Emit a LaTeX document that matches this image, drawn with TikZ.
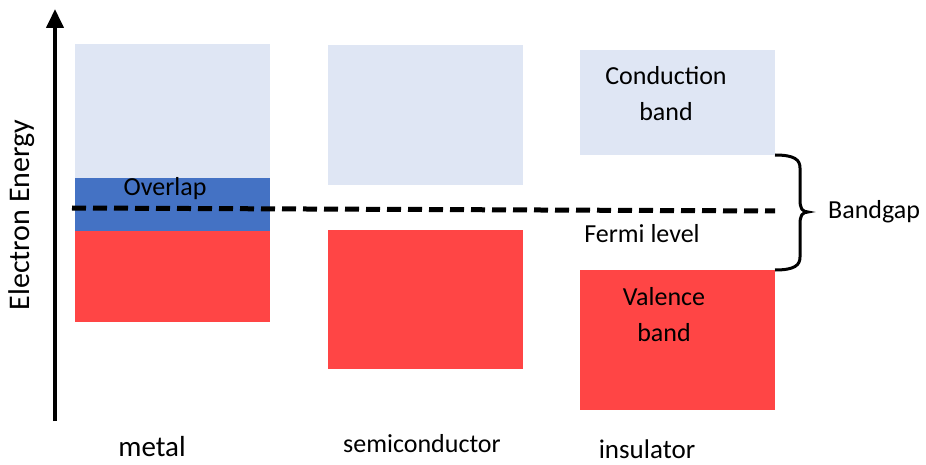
\documentclass[tikz,border=0pt]{standalone}
\usepackage{fontspec}
\setmainfont{Carlito}
\usetikzlibrary{arrows.meta}
\usetikzlibrary{positioning}

\definecolor{condblue}{HTML}{DFE6F4}
\definecolor{overblue}{HTML}{4472C4}
\definecolor{valred}{HTML}{FF4545}

\tikzset{
  band/.style={rectangle, inner sep=0pt, outer sep=0pt, anchor=north west, minimum width=195pt},
  lbl/.style={inner sep=0pt, align=center, font=\fontsize{26}{36}\selectfont},
  fermi/.style={line width=5pt, dash pattern=on 14pt off 7pt},
  brc/.style={line width=3pt},
}

\begin{document}
\begin{tikzpicture}[x=1pt,y=-1pt]
        \useasboundingbox (0,0) rectangle (926,465);
        % energy axis
        \coordinate (ax0) at (55,421);
        \coordinate (ax1) at (55,9);
        \draw[line width=4pt, -{Triangle[length=19pt,width=17pt]}] (ax0) -- (ax1);
        \node[rotate=90, inner sep=0pt, font=\fontsize{30}{36}\selectfont] (axlbl) at (22,215) {Electron Energy};
        % metal
        \node[band, fill=condblue, minimum height=134pt] (mc) at (75,44) {};
        \node[band, fill=overblue, minimum height=53pt] (mo) at (75,178) {};
        \node[band, fill=valred, minimum height=91pt] (mv) at (75,231) {};
        % semiconductor
        \node[band, fill=condblue, minimum height=140pt] (sc) at (328,45) {};
        \node[band, fill=valred, minimum height=139pt] (sv) at (328,230) {};
        % insulator
        \node[band, fill=condblue, minimum height=105pt] (ic) at (580,50) {};
        \node[band, fill=valred, minimum height=140pt] (iv) at (580,270) {};
        % fermi level
        \coordinate (fl0) at (72,208);
        \coordinate (fl1) at (775,211);
        \draw[fermi] (fl0) -- (fl1);
        % bandgap brace
        \draw[brc] (ic.south east) .. controls +(20,0) and +(0,-8) .. ++(25,13)
            -- ++(0,32) .. controls +(0,8) and +(-6,0) .. ++(8,12) coordinate (tip)
            .. controls +(-6,0) and +(0,-8) .. ++(-8,12)
            -- ++(0,33) .. controls +(0,8) and +(20,0) .. (iv.north east);
        % labels
        \node[lbl] (ovl) at (165,189) {Overlap};
        \node[lbl] (cbl) at (666,94) {Conduction\\band};
        \node[lbl] (vbl) at (664,315) {Valence\\band};
        \node[lbl] (fml) at (642,234) {Fermi level};
        \node[lbl, right=20pt of tip, anchor=west] (bgl) {Bandgap};
        \node[lbl, font=\fontsize{29}{34}\selectfont] (mtl) at (152,447) {metal};
        \node[lbl] (scl) at (422,444) {semiconductor};
        \node[lbl, font=\fontsize{27}{34}\selectfont] (isl) at (647,449) {insulator};
\end{tikzpicture}
\end{document}
